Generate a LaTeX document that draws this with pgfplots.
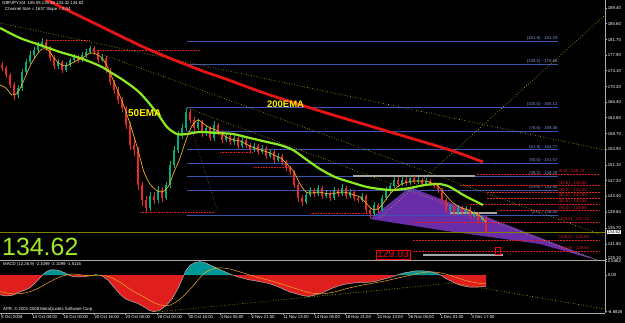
\documentclass[border=0pt]{standalone}
\usepackage{pgfplots}
\pgfplotsset{compat=1.18}
\usepackage{pgfplotstable}
\usepackage{fontspec}
\setmainfont{Liberation Sans}
\definecolor{upc}{RGB}{0,175,125}
\definecolor{dnc}{RGB}{230,40,40}
\definecolor{ema200}{RGB}{230,20,20}
\definecolor{ema50}{RGB}{140,235,30}
\definecolor{emaf}{RGB}{235,175,30}
\definecolor{dotyel}{RGB}{200,200,0}
\definecolor{fibb}{RGB}{60,85,175}
\definecolor{fibt}{RGB}{130,150,215}
\definecolor{fibr}{RGB}{225,30,30}
\definecolor{purp}{RGB}{105,45,170}
\definecolor{olive2}{RGB}{128,128,0}
\definecolor{bignum}{RGB}{160,235,40}
\definecolor{macdred}{RGB}{225,30,30}
\definecolor{macdteal}{RGB}{0,150,150}
\definecolor{frame}{RGB}{170,170,170}
\newcommand{\sm}{\fontsize{4.3}{5}\selectfont}

\pgfplotstableread{
x o c h l
2 175.50 174.74 176.20 174.10
6 174.74 173.03 175.30 172.40
10 173.03 170.59 173.60 169.80
14 170.59 168.14 171.20 167.00
18 168.14 169.85 170.50 167.40
22 169.85 173.76 174.50 169.20
26 173.76 176.21 176.90 173.10
30 176.21 177.92 178.80 175.60
34 177.92 179.14 179.90 177.20
38 179.14 180.36 181.20 178.50
42 180.36 181.10 182.00 179.70
46 181.10 179.63 181.90 179.00
50 179.63 177.18 180.20 176.50
54 177.18 175.23 177.80 174.40
58 175.23 176.21 176.90 174.60
62 176.21 174.25 176.80 173.50
66 174.25 175.47 176.10 173.70
70 175.47 176.70 177.30 174.90
74 176.70 177.43 178.10 176.10
78 177.43 176.70 178.00 176.00
82 176.70 177.92 178.60 176.20
86 177.92 178.65 179.30 177.30
90 178.65 179.63 180.20 178.10
94 179.63 178.65 180.10 178.00
98 178.65 176.70 179.20 176.00
102 176.70 177.18 177.90 176.10
106 177.18 174.25 177.60 173.40
110 174.25 171.32 174.80 170.50
114 171.32 169.36 171.90 168.40
118 169.36 166.92 170.00 166.00
122 166.92 164.96 167.60 163.90
126 164.96 160.81 165.50 159.80
130 160.81 155.92 161.50 154.60
134 155.92 154.70 157.30 153.20
138 154.70 146.15 155.40 145.00
142 146.15 142.48 147.00 141.00
146 142.48 140.52 143.50 139.60
150 140.52 143.46 144.40 139.80
154 143.46 142.48 144.50 141.40
158 142.48 144.92 145.80 141.70
162 144.92 142.97 145.60 142.00
166 142.97 146.15 147.00 142.40
170 146.15 151.03 151.90 145.50
174 151.03 154.70 155.60 150.40
178 154.70 158.37 159.30 154.00
182 158.37 160.08 161.00 157.50
186 160.08 163.99 165.00 159.40
190 163.99 162.03 164.60 161.30
194 162.03 160.08 162.80 159.30
198 160.08 161.54 162.40 159.50
202 161.54 158.85 162.00 158.00
206 158.85 160.08 160.90 158.20
210 160.08 157.63 160.60 156.80
214 157.63 160.81 161.80 157.00
218 160.81 159.10 161.40 158.40
222 159.10 157.14 159.70 156.40
226 157.14 158.12 158.90 156.60
230 158.12 156.66 158.70 155.90
234 156.66 157.63 158.40 156.00
238 157.63 155.68 158.10 155.00
242 155.68 157.14 157.90 155.10
246 157.14 155.92 157.60 155.20
250 155.92 154.70 156.40 154.00
254 154.70 155.68 156.30 154.10
258 155.68 154.21 156.10 153.50
262 154.21 155.19 155.90 153.70
266 155.19 153.23 155.60 152.50
270 153.23 154.21 154.90 152.70
274 154.21 152.26 154.60 151.50
278 152.26 153.23 153.90 151.70
282 153.23 151.77 153.70 151.00
286 151.77 150.30 152.30 149.60
290 150.30 149.32 150.90 148.50
294 149.32 146.15 149.80 145.30
298 146.15 142.97 146.70 142.00
302 142.97 141.99 143.60 140.90
306 141.99 143.70 144.50 141.40
310 143.70 144.92 145.70 143.10
314 144.92 143.95 145.50 143.30
318 143.95 145.41 146.20 143.40
322 145.41 143.46 145.90 142.80
326 143.46 144.19 144.90 142.90
330 144.19 142.97 144.70 142.30
334 142.97 144.92 145.70 142.40
338 144.92 143.95 145.40 143.30
342 143.95 145.41 146.30 143.50
346 145.41 143.46 145.90 142.80
350 143.46 144.44 145.20 142.90
354 144.44 142.97 144.90 142.30
358 142.97 142.48 143.50 141.70
362 142.48 143.46 144.20 141.90
366 143.46 140.04 143.90 139.20
370 140.04 139.06 140.80 138.10
374 139.06 141.26 142.00 138.50
378 141.26 140.04 141.80 139.40
382 140.04 142.97 143.60 139.60
386 142.97 144.92 145.60 142.50
390 144.92 145.90 146.70 144.30
394 145.90 147.37 148.20 145.40
398 147.37 146.39 148.00 145.80
402 146.39 147.37 148.30 145.90
406 147.37 146.63 148.10 146.00
410 146.63 147.86 148.60 146.20
414 147.86 146.88 148.40 146.30
418 146.88 147.37 148.10 146.40
422 147.37 146.39 147.90 145.80
426 146.39 147.12 147.80 145.90
430 147.12 146.39 147.70 145.80
434 146.39 145.90 146.90 145.30
438 145.90 144.92 146.40 144.20
442 144.92 142.48 145.40 141.60
446 142.48 140.04 143.00 139.20
450 140.04 140.77 141.60 139.40
454 140.77 139.30 141.30 138.50
458 139.30 140.52 141.30 138.80
462 140.52 139.55 141.00 138.90
466 139.55 140.28 141.10 139.00
470 140.28 138.57 140.80 137.80
474 138.57 139.06 139.80 138.00
478 139.06 137.59 139.60 136.90
482 137.59 138.08 138.90 137.00
486 138.08 134.62 138.50 134.42
}\candles

\pgfplotstableread{
x v
0 -3.6
6 -3.8
12 -3.7
18 -3.2
24 -2.8
30 -2.3
36 -1.3
40 -0.5
44 0.3
48 0.8
52 1.0
58 0.9
64 0.5
68 0.1
72 -0.2
78 -0.3
84 -0.3
90 -0.1
96 0.1
102 -0.1
108 -0.9
114 -2.2
120 -3.5
126 -4.4
132 -4.8
138 -5.2
144 -5.8
150 -6.5
154 -6.7
160 -6.4
166 -5.6
172 -4.4
178 -2.4
182 -0.8
186 0.9
190 1.8
195 2.3
200 2.5
206 2.2
212 1.7
218 1.2
224 0.7
230 0.2
236 -0.2
242 -0.5
248 -0.8
254 -1.0
260 -1.2
266 -1.4
272 -1.7
278 -2.1
284 -2.6
290 -3.1
296 -3.4
302 -3.7
308 -3.9
314 -3.7
320 -3.4
326 -2.9
332 -2.4
338 -2.0
344 -1.7
350 -1.5
356 -1.4
362 -1.3
368 -1.3
374 -1.2
380 -0.9
386 -0.6
392 -0.3
398 0.1
404 0.4
410 0.6
416 0.8
422 0.8
428 0.7
434 0.5
440 0.1
446 -0.6
452 -1.2
458 -1.7
464 -2.0
470 -2.2
476 -2.2
482 -2.1
486 -2.1
}\macd

\begin{document}
\begin{tikzpicture}
\fill[black] (0,0) rectangle (625bp,323bp);

% ---------------- main price panel ----------------
\begin{axis}[
  at={(0bp,63bp)}, anchor=south west,
  scale only axis, width=605bp, height=260bp,
  xmin=0, xmax=605, ymin=127.82, ymax=191.36,
  axis line style={draw=none},
  xtick=\empty,
  ytick={189.40,185.60,181.70,177.90,174.10,170.20,166.40,162.60,158.70,154.90,151.10,147.20,143.40,139.60,135.70,131.80,128.10},
  yticklabels={189.40,185.60,181.70,177.90,174.10,170.20,166.40,162.60,158.70,154.90,151.10,147.20,143.40,139.60,135.70,131.80,\raisebox{1.6bp}{128.10}},
  ytick pos=right, yticklabel pos=right,
  tick align=outside, major tick length=2bp,
  tick style={draw=frame, line width=0.4bp},
  yticklabel style={font=\sm, text=white, anchor=west, inner sep=0.6bp},
  colormap={updn}{color=(dnc) color=(upc)},
  point meta min=-1, point meta max=1,
]
% purple pattern
\addplot[draw=none, fill=purp] coordinates {(370,137.84) (410,145.66) (600,127.57) (540,131.73) (440,135.15)} -- cycle;

% fib expansion (blue)
\foreach \lv/\lab in {181.29/(161.8) - 181.29, 175.66/(138.2) - 175.66, 165.13/(100.0) - 165.13, 159.36/(78.6) - 159.36, 154.77/(61.8) - 154.77, 151.57/(50.0) - 151.57, 148.38/(38.2) - 148.38, 144.90/(23.6) - 144.90, 138.80/(0.0) - 138.80}{
  \edef\tmp{\noexpand\draw[fibb, line width=0.6bp] (axis cs:187,\lv) -- (axis cs:558,\lv);
  \noexpand\node[anchor=south east, inner sep=0.4bp, text=fibt, font=\noexpand\sm] at (axis cs:558,\lv) {\lab};}\tmp
}
% fib retracement (red dashed)
\foreach \lv/\st/\lab in {148.74/477/(0.0) - 148.74, 146.00/460/(23.6) - 146.00, 144.30/487/(38.2) - 144.30, 142.93/487/(50.0) - 142.93, 141.56/470/(61.8) - 141.56, 139.86/500/(76.4) - 139.86, 137.12/413/(100.0) - 137.12, 132.68/413/(138.2) - 132.68, 129.94/413/(161.8) - 129.94}{
  \edef\tmp{\noexpand\draw[fibr, line width=0.5bp, dash pattern=on 2bp off 1bp] (axis cs:\st,\lv) -- (axis cs:600,\lv);
  \noexpand\node[anchor=south west, inner sep=0.4bp, text=fibr, font=\noexpand\sm] at (axis cs:558,\lv) {\lab};}\tmp
}
% red dotted swing levels
\addplot[fibr, densely dotted, line width=0.6bp] coordinates {(47,181.58) (90,181.58)};
\addplot[fibr, densely dotted, line width=0.6bp] coordinates {(97,179.14) (200,179.14)};
\addplot[fibr, densely dotted, line width=0.6bp] coordinates {(140,139.55) (215,139.55)};
\addplot[fibr, densely dotted, line width=0.6bp] coordinates {(220,154.21) (253,154.21)};
\addplot[fibr, densely dotted, line width=0.6bp] coordinates {(253,150.54) (290,150.54)};
\addplot[fibr, densely dotted, line width=0.6bp] coordinates {(310,139.30) (370,139.30)};

% current price line
\addplot[olive2, line width=0.6bp] coordinates {(0,134.62) (605,134.62)};

% dotted trend / channel lines
\addplot[dotyel, dotted, line width=0.6bp] coordinates {(0,185.74) (605,154.70)};
\addplot[dotyel, dotted, line width=0.6bp] coordinates {(380,138.08) (605,187.69)};
\addplot[dotyel, dotted, line width=0.6bp] coordinates {(90,179.14) (605,133.68)};
\addplot[dotyel, dotted, line width=0.6bp] coordinates {(187,164.96) (605,127.08)};
\addplot[brown!80!red, dotted, line width=0.6bp] coordinates {(185,164.96) (217,140.04)};

% gray bars
\addplot[gray!70, line width=2.6bp] coordinates {(353,148.35) (475,148.35)};
\addplot[gray!70, line width=2.6bp] coordinates {(450,139.30) (497,139.30)};
\addplot[gray!70, line width=2.6bp] coordinates {(423,129.03) (503,129.03)};
\draw[red, line width=0.5bp] (axis cs:495,131.0) rectangle (axis cs:500,129.2);

% candles
\addplot[quiver={u=0, v={\thisrow{h}-\thisrow{l}}, colored=mapped color}, line width=0.6bp,
  point meta={max(-1,min(1,100*(\thisrow{c}-\thisrow{o})))}] table[x=x, y=l] {\candles};
\addplot[quiver={u=0, v={\thisrow{c}-\thisrow{o}}, colored=mapped color}, line width=2.4bp,
  point meta={max(-1,min(1,100*(\thisrow{c}-\thisrow{o})))}] table[x=x, y=o] {\candles};

% 200 EMA
\addplot[ema200, line width=2.8bp, smooth] coordinates {
(40,192.50) (47,191.36) (100,185.01) (150,179.14) (200,174.25) (223,172.30) (267,168.39)
(320,164.23) (350,162.03) (400,158.37) (450,154.70) (483,151.77)};
% 50 EMA
\addplot[ema50, line width=2.2bp, smooth] coordinates {
(0,184.52) (20,182.07) (40,180.36) (60,178.65) (80,177.18) (100,175.23) (110,173.76)
(123,171.81) (140,168.63) (157,163.74) (167,160.32) (177,158.61) (187,158.61) (200,159.10)
(217,158.85) (233,158.61) (250,157.63) (267,156.66) (280,155.92) (293,154.70) (307,152.26)
(320,150.06) (335,148.10) (350,146.88) (367,145.66) (380,145.17) (393,144.92) (410,145.41)
(425,146.15) (440,146.39) (450,145.66) (460,144.19) (467,143.21) (475,142.24) (483,141.26)};
% fast EMA
\addplot[emaf, line width=0.7bp, smooth] coordinates {
(0,170.59) (6,169.85) (12,168.14) (18,168.87) (24,171.81) (30,175.23) (36,177.67) (42,179.38)
(48,179.14) (54,177.18) (60,175.72) (66,175.23) (72,175.96) (78,176.70) (84,177.43) (90,178.41)
(96,178.16) (102,177.18) (108,174.74) (114,171.32) (120,167.90) (126,163.99) (132,159.59)
(138,154.70) (144,149.32) (150,146.39) (156,144.92) (162,144.44) (168,145.66) (174,149.32)
(180,152.74) (186,157.14) (192,160.57) (198,162.03) (204,161.05) (210,160.08) (216,159.59)
(222,158.61) (228,157.63) (234,157.14) (240,156.90) (246,156.17) (252,155.43) (258,154.94)
(264,154.46) (270,153.97) (276,153.23) (282,152.50) (288,151.03) (294,149.32) (300,146.39)
(306,144.44) (312,144.19) (318,144.44) (324,144.19) (330,143.95) (336,144.19) (342,144.44)
(348,144.19) (354,143.70) (360,143.21) (366,141.75) (372,140.28) (378,140.28) (384,141.99)
(390,143.95) (396,145.41) (402,146.39) (408,146.88) (414,147.12) (420,147.12) (426,147.12)
(432,146.63) (438,145.90) (444,144.19) (450,142.48) (456,141.26) (462,140.52) (468,140.04)
(474,139.30) (480,138.57) (486,137.10)};

% texts
\node[anchor=north west, inner sep=0pt, text=white, font=\sm] at (axis cs:2,191.10) {GBPJPY,H4\ \ 135.08 135.30 134.42 134.62};
\node[anchor=north west, inner sep=0pt, text=white, font=\sm] at (axis cs:5,189.60) {Channel Size = 1637 Slope = 2.04};
\node[anchor=base west, inner sep=0pt, text=yellow, font=\fontsize{10}{10}\selectfont\bfseries] at (axis cs:128,162.77) {50EMA};
\node[anchor=base west, inner sep=0pt, text=yellow, font=\fontsize{9.5}{10}\selectfont\bfseries] at (axis cs:267,165.21) {200EMA};
\node[anchor=base west, inner sep=0pt, text=bignum, font=\fontsize{25}{25}\selectfont] at (axis cs:2,128.85) {134.62};
\node[draw=red, fill=black, text=red, inner sep=0.8bp, font=\fontsize{10.5}{11}\selectfont] at (axis cs:393,129.20) {129.03};
\coordinate (cur) at (axis cs:605,134.62);
\end{axis}

% ---------------- MACD panel ----------------
\begin{axis}[
  at={(0bp,10bp)}, anchor=south west,
  scale only axis, width=605bp, height=52bp,
  xmin=0, xmax=605, ymin=-6.936, ymax=2.606,
  axis line style={draw=none},
  ytick={2.5462,0,-6.6826}, yticklabels={\raisebox{-1.6bp}{2.5462},0.00,-6.6826},
  ytick pos=right, yticklabel pos=right,
  xtick={1,32,63,94,125,157,188,220,251,283,314,345,377,408,440,471},
  xticklabels={8 Oct 2008,13 Oct 08:00,16 Oct 00:00,20 Oct 16:00,23 Oct 08:00,28 Oct 00:00,30 Oct 16:00,4 Nov 05:00,6 Nov 21:00,11 Nov 13:00,14 Nov 05:00,18 Nov 21:00,21 Nov 13:00,26 Nov 05:00,1 Dec 01:00,3 Dec 17:00},
  xtick pos=bottom, xticklabel pos=bottom,
  tick align=outside, major tick length=2bp,
  tick style={draw=frame, line width=0.4bp},
  yticklabel style={font=\sm, text=white, anchor=west, inner sep=0.6bp},
  xticklabel style={font=\sm, text=white, anchor=north west, inner sep=0.6bp, xshift=-0.3bp},
]
\addplot[draw=none, fill=macdred] table[x=x, y=v] {\macd} -- (axis cs:486,0) -- (axis cs:0,0) -- cycle;
\addplot[draw=none, fill=macdteal] coordinates {(42.5,0) (44,0.3) (48,0.8) (52,1.0) (58,0.9) (64,0.5) (68,0.1) (69.3,0)} -- cycle;
\addplot[draw=none, fill=macdteal] coordinates {(183.9,0) (186,0.9) (190,1.8) (195,2.3) (200,2.5) (206,2.2) (212,1.7) (218,1.2) (224,0.7) (230,0.2) (233,0)} -- cycle;
\addplot[draw=none, fill=macdteal] coordinates {(396.5,0) (398,0.1) (404,0.4) (410,0.6) (416,0.8) (422,0.8) (428,0.7) (434,0.5) (440,0.1) (440.9,0)} -- cycle;
\addplot[gray!60, line width=0.5bp] table[x=x, y=v] {\macd};
\addplot[emaf, line width=0.5bp, smooth] coordinates {
(0,-3.0) (12,-3.4) (24,-3.3) (36,-2.6) (48,-1.4) (60,-0.3) (72,0.2) (84,0.0) (96,-0.1)
(108,-0.2) (120,-1.3) (132,-2.8) (144,-4.0) (156,-5.2) (168,-5.6) (180,-4.4) (192,-2.2)
(204,0.3) (216,1.3) (228,1.2) (240,0.6) (252,-0.1) (264,-0.7) (276,-1.3) (288,-2.0)
(300,-2.7) (312,-3.3) (324,-3.4) (336,-3.0) (348,-2.4) (360,-1.9) (372,-1.5) (384,-1.1)
(396,-0.6) (408,-0.1) (420,0.4) (432,0.6) (444,0.3) (456,-0.4) (468,-1.1) (480,-1.5) (486,-1.5)};
\addplot[dotyel, dotted, line width=0.6bp] coordinates {(157,-6.75) (453,-1.43)};
\addplot[dotyel, dotted, line width=0.6bp] coordinates {(453,-1.43) (605,-6.20)};
\node[anchor=north west, inner sep=0pt, text=white, font=\sm] at (axis cs:3,2.4) {MACD (12,26,9) -2.1099 -2.1099 -1.5116};
\node[anchor=south west, inner sep=0pt, text=white, font=\sm] at (axis cs:3,-6.6) {APR, © 2001-2008 MetaQuotes Software Corp.};
\end{axis}

% frame lines
\draw[frame, line width=0.6bp] (605bp,10bp) -- (605bp,323bp);
\draw[frame, line width=0.6bp] (0bp,10bp) -- (605bp,10bp);
\draw[frame, line width=0.6bp] (0bp,62.5bp) -- (605bp,62.5bp);
\node[anchor=west, fill=white, text=black, inner sep=0.6bp, font=\sm] at ([xshift=1.5bp]cur) {134.62};

\pgfresetboundingbox
\useasboundingbox (0,0) rectangle (625bp,323bp);
\end{tikzpicture}
\end{document}
